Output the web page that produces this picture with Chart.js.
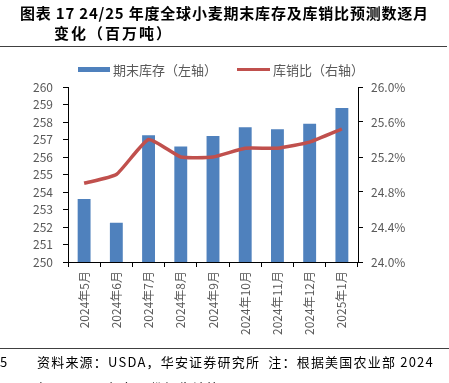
<!DOCTYPE html>
<html>
<head>
<meta charset="utf-8">
<script src="https://cdn.jsdelivr.net/npm/chart.js@4"></script>
<style>
  html, body { margin: 0; padding: 0; background: #fff; }
  #wrap { width: 449px; height: 383px; position: relative; }
</style>
</head>
<body>
<div id="wrap"><canvas id="chart" width="449" height="383"></canvas></div>
<script>
const months = ['2024年5月', '2024年6月', '2024年7月', '2024年8月', '2024年9月', '2024年10月', '2024年11月', '2024年12月', '2025年1月'];
const endingStocks = [253.6, 252.25, 257.25, 256.6, 257.2, 257.7, 257.58, 257.9, 258.8];
const stockToUse = [24.9, 25.0, 25.4, 25.2, 25.2, 25.3, 25.3, 25.37, 25.52];

const FONT = '"Noto Sans CJK SC", "Liberation Sans", sans-serif';

// title, legend, separators and footer
const decor = {
    id: 'decor',
    afterDraw(chart) {
        const c = chart.ctx;
        c.save();
        c.fillStyle = '#000';
        c.textBaseline = 'middle';
        c.font = 'bold 15px ' + FONT;
        c.letterSpacing = '0.8px';
        c.fillText('图表 17 24/25 年度全球小麦期末库存及库销比预测数逐月', 20, 13);
        c.letterSpacing = '2px';
        c.fillText('变化（百万吨）', 54, 33);

        c.strokeStyle = '#404040';
        c.lineWidth = 1;
        c.beginPath();
        c.moveTo(0, 46.5); c.lineTo(447, 46.5);
        c.moveTo(0, 348.5); c.lineTo(449, 348.5);
        c.stroke();

        // legend
        c.letterSpacing = '0px';
        c.font = '13px ' + FONT;
        c.fillStyle = '#4F81BD';
        c.fillRect(78, 67, 32, 5);
        c.fillStyle = '#595959';
        c.fillText('期末库存（左轴）', 113, 70);
        c.strokeStyle = '#C0504D';
        c.lineWidth = 3;
        c.beginPath();
        c.moveTo(237, 69.5); c.lineTo(270, 69.5);
        c.stroke();
        c.fillStyle = '#595959';
        c.fillText('库销比（右轴）', 273, 70);

        // footer
        c.fillStyle = '#000';
        c.font = '13px ' + FONT;
        c.letterSpacing = '1.2px';
        c.fillText('资料来源：USDA，华安证券研究所  注：根据美国农业部 2024', 37, 362);
        c.fillText('年 1-2025 年各月份报告计算', 37, 388);
        c.letterSpacing = '0px';
        c.fillText('5', 0, 362);
        c.restore();
    }
};

new Chart(document.getElementById('chart').getContext('2d'), {
    data: {
        labels: months,
        datasets: [
            { type: 'line', label: '库销比（右轴）', data: stockToUse, yAxisID: 'y2', borderColor: '#C0504D', backgroundColor: '#C0504D', borderWidth: 3.5, pointRadius: 0, tension: 0.15, order: 0 },
            { type: 'bar', label: '期末库存（左轴）', data: endingStocks, yAxisID: 'y', backgroundColor: '#4F81BD', categoryPercentage: 1, barPercentage: 0.4, order: 1 }
        ]
    },
    options: {
        responsive: false,
        animation: false,
        layout: { padding: { top: 87, left: 0, right: 0, bottom: 0 } },
        plugins: { legend: { display: false }, tooltip: { enabled: false } },
        scales: {
            x: {
                offset: true,
                grid: { display: true, offset: true, drawOnChartArea: false, color: '#000', tickLength: 5 },
                border: { color: '#000' },
                ticks: { color: '#595959', font: { size: 12, family: FONT }, minRotation: 90, maxRotation: 90, padding: 4 },
                afterFit(s) { s.height = 121; }
            },
            y: {
                position: 'left',
                min: 250, max: 260,
                grid: { display: true, drawOnChartArea: false, color: '#000', tickLength: 5 },
                border: { color: '#000' },
                ticks: { stepSize: 1, color: '#595959', font: { size: 12, family: FONT }, padding: 10 },
                afterFit(s) { s.width = 68; }
            },
            y2: {
                position: 'right',
                min: 24, max: 26,
                grid: { display: true, drawOnChartArea: false, color: '#000', tickLength: 5 },
                border: { color: '#000' },
                ticks: { stepSize: 0.4, color: '#595959', font: { size: 12, family: FONT }, padding: 8, callback: v => v.toFixed(1) + '%' },
                afterFit(s) { s.width = 91; }
            }
        }
    },
    plugins: [decor]
});
</script>
</body>
</html>
